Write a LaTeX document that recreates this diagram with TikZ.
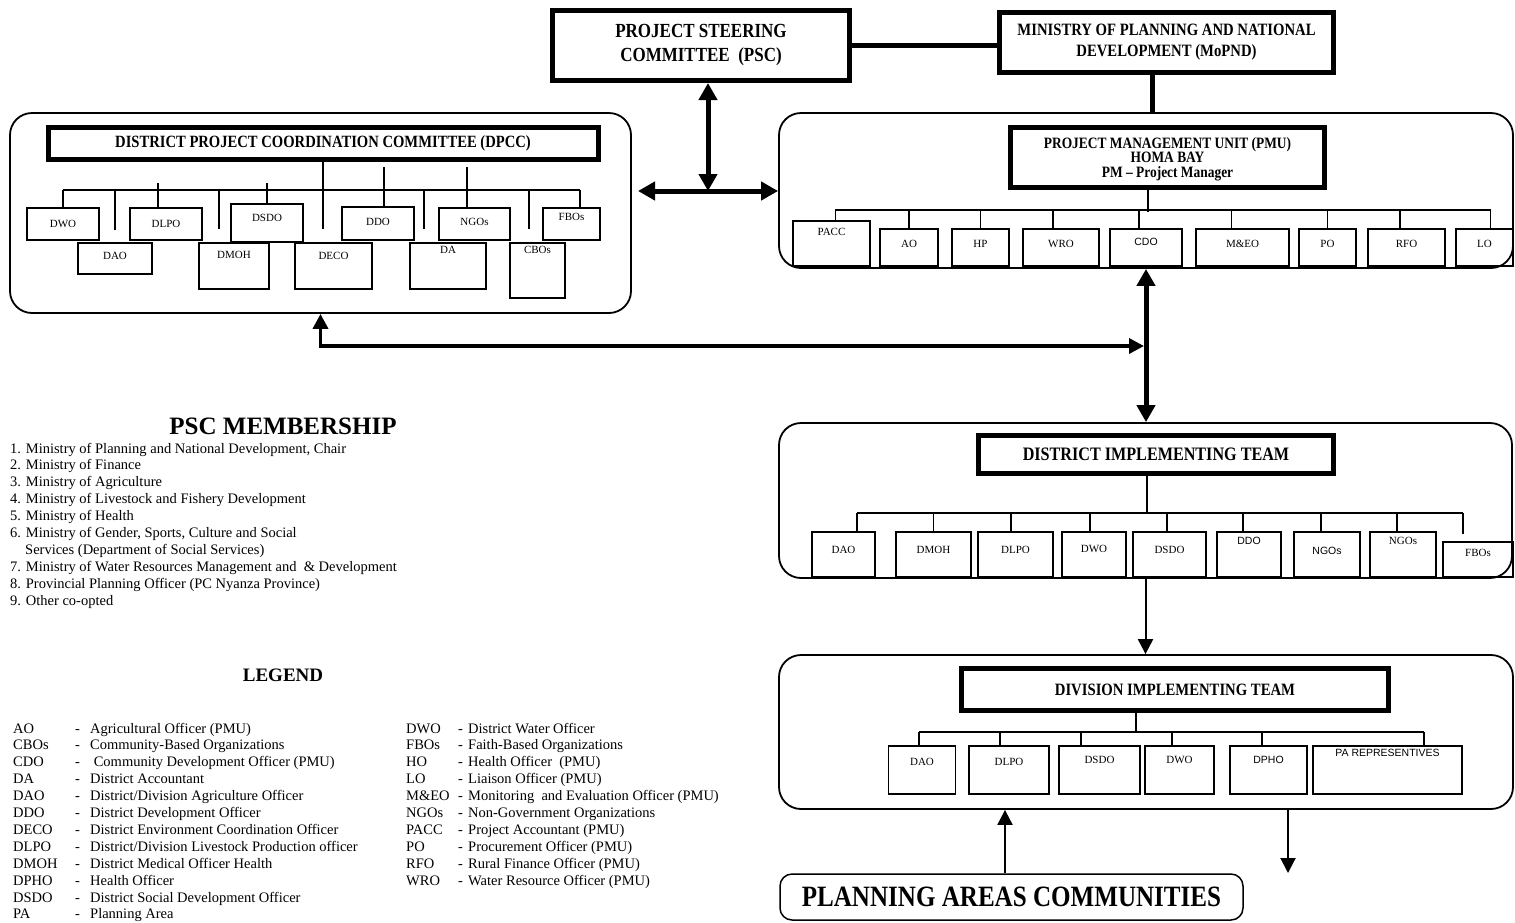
\documentclass[tikz,border=0pt]{standalone}
\usepackage{fontspec}
\setmainfont{Liberation Serif}
\newfontfamily\headfont{Liberation Serif}[FakeStretch=0.85]
\newfontfamily\arialfont{Liberation Sans}
\usetikzlibrary{arrows.meta}
\newcommand{\boxlbl}{\fontsize{11}{13}\selectfont}
\newcommand{\boxsans}{\arialfont\fontsize{10.5}{12.5}\selectfont}
\newcommand{\bodytxt}{\fontsize{14.5}{16.9}\selectfont}

\begin{document}
\begin{tikzpicture}[x=1pt, y=-1pt,
    unit/.style={draw, line width=1.2pt, inner sep=1pt, font=\boxlbl},
    sunit/.style={unit, font=\boxsans},
    head/.style={draw, line width=5pt, inner sep=2pt, align=center},
    group/.style={draw, line width=1.8pt, rounded corners=22pt, inner sep=0pt},
    txtup/.style={text depth=#1pt},
    bus/.style={line width=1.5pt},
    fat/.style={line width=5pt},
    fatarrow/.style={line width=5pt,
        {Triangle[length=17pt,width=18pt]}-{Triangle[length=17pt,width=18pt]}},
    midarrow/.style={line width=3.5pt,
        {Triangle[length=15pt,width=15pt]}-{Triangle[length=15pt,width=15pt]}},
    thinarrow/.style={line width=2pt, -{Triangle[length=15pt,width=15pt]}},
]
\useasboundingbox (0,0) rectangle (1515,922);

    %Groups
    \node[group, minimum width=621pt, minimum height=200pt] (dpccgrp) at (320.5,213) {};
    \node[group, minimum width=734pt, minimum height=155pt] (pmugrp) at (1146,190.5) {};
    \node[group, minimum width=733pt, minimum height=155pt] (ditgrp) at (1145.5,500.5) {};
    \node[group, minimum width=734pt, minimum height=154pt] (divgrp) at (1146,732) {};

    %Top
    \node[head, minimum width=297pt, minimum height=70pt,
        font=\headfont\bfseries\fontsize{20}{24}\selectfont] (psc) at (701,45.5)
        {PROJECT STEERING\\COMMITTEE\ \ (PSC)};
    \node[head, minimum width=334pt, minimum height=60pt,
        font=\headfont\bfseries\fontsize{17.3}{21}\selectfont] (mopnd) at (1166.5,42.5)
        {MINISTRY OF PLANNING AND NATIONAL\\DEVELOPMENT (MoPND)};

    %DPCC
    \node[head, minimum width=550pt, minimum height=32pt,
        font=\headfont\bfseries\fontsize{17.2}{20}\selectfont] (dpcc) at (323,143)
        {DISTRICT PROJECT COORDINATION COMMITTEE (DPCC)};
    \node[unit, minimum width=72pt, minimum height=32pt] (dwo) at (63,224) {DWO};
    \node[unit, minimum width=72pt, minimum height=32pt] (dlpo) at (166,224) {DLPO};
    \node[unit, minimum width=72pt, minimum height=38pt, txtup=10] (dsdo) at (267,223) {DSDO};
    \node[unit, minimum width=72pt, minimum height=33pt, txtup=3] (ddo) at (378,223.5) {DDO};
    \node[unit, minimum width=71pt, minimum height=32pt, txtup=4] (ngos) at (474.5,224) {NGOs};
    \node[unit, minimum width=57pt, minimum height=32pt, txtup=14] (fbos) at (571.5,224) {FBOs};
    \node[unit, minimum width=74pt, minimum height=31pt, txtup=5] (dao) at (115,258.5) {DAO};
    \node[unit, minimum width=70pt, minimum height=46pt, txtup=22] (dmoh) at (234,266) {DMOH};
    \node[unit, minimum width=77pt, minimum height=46pt, txtup=20] (deco) at (333.5,266) {DECO};
    \node[unit, minimum width=76pt, minimum height=46pt, txtup=32] (da) at (448,266) {DA};
    \node[unit, minimum width=55pt, minimum height=55pt, txtup=41] (cbos) at (537.5,270.5) {CBOs};

    %PMU
    \node[head, minimum width=314pt, minimum height=60pt,
        font=\headfont\bfseries\fontsize{15.8}{14.5}\selectfont] (pmu) at (1167.5,157.5)
        {\rule{0pt}{14pt}PROJECT MANAGEMENT UNIT (PMU)\\HOMA BAY\\PM – Project Manager};
    \node[unit, minimum width=77pt, minimum height=45pt, txtup=23] (pacc) at (831.5,243.5) {PACC};
    \node[unit, minimum width=58pt, minimum height=37pt, txtup=7] (ao) at (909,247.5) {AO};
    \node[unit, minimum width=57pt, minimum height=37pt, txtup=7] (hp) at (980.5,247.5) {HP};
    \node[unit, minimum width=76pt, minimum height=37pt, txtup=7] (wro) at (1061,247.5) {WRO};
    \node[sunit, minimum width=72pt, minimum height=37pt, txtup=11] (cdo) at (1146,247.5) {CDO};
    \node[unit, minimum width=93pt, minimum height=37pt, txtup=7] (meo) at (1242.5,247.5) {M\&EO};
    \node[unit, minimum width=57pt, minimum height=37pt, txtup=7] (po) at (1327.5,247.5) {PO};
    \node[unit, minimum width=77pt, minimum height=37pt, txtup=7] (rfo) at (1406.5,247.5) {RFO};
    \node[unit, minimum width=57pt, minimum height=37pt, txtup=7] (lo) at (1484.5,247.5) {LO};

    %District implementing team
    \node[head, minimum width=355pt, minimum height=38pt,
        font=\headfont\bfseries\fontsize{19}{22}\selectfont] (dit) at (1156,454.5)
        {DISTRICT IMPLEMENTING TEAM};
    \node[unit, minimum width=63pt, minimum height=45pt, txtup=10] (dao2) at (843.5,554.5) {DAO};
    \node[unit, minimum width=75pt, minimum height=45pt, txtup=10] (dmoh2) at (933.5,554.5) {DMOH};
    \node[unit, minimum width=75pt, minimum height=45pt, txtup=10] (dlpo2) at (1015.5,554.5) {DLPO};
    \node[unit, minimum width=64pt, minimum height=45pt, txtup=12] (dwo2) at (1094,554.5) {DWO};
    \node[unit, minimum width=73pt, minimum height=45pt, txtup=10] (dsdo2) at (1169.5,554.5) {DSDO};
    \node[sunit, minimum width=64pt, minimum height=45pt, txtup=27] (ddo2) at (1249,554.5) {DDO};
    \node[sunit, minimum width=66pt, minimum height=45pt, txtup=8] (ngos2) at (1327,554.5) {NGOs};
    \node[unit, minimum width=66pt, minimum height=45pt, txtup=27] (ngos3) at (1403,554.5) {NGOs};
    \node[unit, minimum width=70pt, minimum height=35pt, txtup=13] (fbos2) at (1478,559.5) {FBOs};

    %Division implementing team
    \node[head, minimum width=427pt, minimum height=42pt,
        font=\headfont\bfseries\fontsize{17.3}{20}\selectfont] (divit) at (1175,689.5)
        {DIVISION IMPLEMENTING TEAM};
    \node[unit, minimum width=67.5pt, minimum height=48pt, txtup=16] (dao3) at (922,770) {DAO};
    \node[unit, minimum width=80pt, minimum height=48pt, txtup=16] (dlpo3) at (1009,770) {DLPO};
    \node[unit, minimum width=81pt, minimum height=48pt, txtup=20] (dsdo3) at (1099.5,770) {DSDO};
    \node[unit, minimum width=69pt, minimum height=48pt, txtup=20] (dwo3) at (1179.5,770) {DWO};
    \node[sunit, minimum width=77pt, minimum height=48pt, txtup=20] (dpho) at (1268.5,770) {DPHO};
    \node[sunit, minimum width=149pt, minimum height=48pt, txtup=34] (parep) at (1387.5,770) {PA REPRESENTIVES};

    %Communities
    \node[draw, line width=1.5pt, rounded corners=12pt, minimum width=463pt, minimum height=46pt,
        font=\headfont\bfseries\fontsize{29.5}{32}\selectfont] (comm) at (1011.5,897)
        {PLANNING AREAS COMMUNITIES};

    %Links between top boxes
    \draw[fat] (psc.east) -- (psc.east -| mopnd.west);
    \coordinate (mlink) at (1152,0);
    \draw[fat] (mlink |- mopnd.south) -- (mlink |- pmugrp.north);
    \coordinate (hub) at (708,191);
    \coordinate (hubL) at (638,191);
    \draw[fatarrow] (psc.south -| hub) -- (hub);
    \draw[fatarrow] (hubL) -- (hub -| pmugrp.west);
    \draw[fatarrow] (pmugrp.south) -- (pmugrp.south |- ditgrp.north);
    \coordinate (lowtip) at (1144,346);
    \draw[midarrow] (dpccgrp.south) |- (lowtip);
    \draw[thinarrow] (ditgrp.south) -- (ditgrp.south |- divgrp.north);
    \draw[thinarrow] ([xshift=-6.5pt]comm.north) -- ([xshift=-6.5pt]comm.north |- divgrp.south);
    \coordinate (outflow) at (1288,873);
    \draw[thinarrow] (outflow |- divgrp.south) -- (outflow);

    %DPCC lines
    \coordinate (dbusL) at (63,190);
    \coordinate (dbusR) at (580,190);
    \draw[bus] (dbusL) -- (dbusR);
    \draw[bus] (dwo.north) -- (dwo.north |- dbusL);
    \draw[bus] (dao.north |- dbusL) -- ([yshift=12pt]dao.north);
    \draw[bus] ([xshift=-8pt]dlpo.north) -- ++(0,-24);
    \draw[bus] ([xshift=-15pt]dmoh.north |- dbusL) -- ([xshift=-15pt,yshift=13pt]dmoh.north);
    \draw[bus] (dsdo.north) -- ++(0,-20);
    \draw[bus] (dpcc.south) -- ++(0,67);
    \draw[bus] ([xshift=6pt]ddo.north) -- ++(0,-39);
    \draw[bus] ([xshift=-24pt]da.north |- dbusL) -- ([xshift=-24pt,yshift=13pt]da.north);
    \draw[bus] ([xshift=-7.5pt]ngos.north) -- ++(0,-40);
    \draw[bus] ([xshift=-8.5pt]cbos.north |- dbusL) -- ([xshift=-8.5pt,yshift=13pt]cbos.north);
    \draw[bus] (dbusR) -- (dbusR |- fbos.north);

    %PMU lines
    \coordinate (pbus) at (1148,210);
    \coordinate (pbusL) at (835,210);
    \coordinate (pbusR) at (1491,210);
    \draw[bus] (pmu.south -| pbus) -- ([yshift=-2pt]pbus);
    \draw[bus] (pbusL) -- (pbusR);
    \foreach \n/\dx in {pacc/4, ao/0, hp/0, wro/-8, cdo/-7, meo/-11, po/0, rfo/-6.5, lo/6}
        \draw[bus] ([xshift=\dx pt]\n.north) -- ([xshift=\dx pt]\n.north |- pbusL);

    %District team lines
    \coordinate (tbus) at (1147,513);
    \coordinate (tbusL) at (857,513);
    \coordinate (tbusR) at (1463,513);
    \draw[bus] (dit.south -| tbus) -- (tbus);
    \draw[bus] (tbusL) -- (tbusR);
    \foreach \n/\dx in {dao2/13.5, dmoh2/0, dlpo2/-4.5, dwo2/-4, dsdo2/-2.5, ddo2/-6, ngos2/-6, ngos3/-6}
        \draw[bus] ([xshift=\dx pt]\n.north) -- ([xshift=\dx pt]\n.north |- tbusL);
    \draw[bus] (tbusR) -- ([yshift=7pt]tbusR |- fbos2.north);

    %Division team lines
    \coordinate (vbus) at (1136,732);
    \coordinate (vbusL) at (919,732);
    \coordinate (vbusR) at (1424,732);
    \draw[bus] (divit.south -| vbus) -- (vbus);
    \draw[bus] (vbusL) -- (vbusR);
    \foreach \n/\dx in {dao3/-3, dlpo3/-9, dsdo3/-18.5, dwo3/-7.5, dpho/-6.5, parep/36.5}
        \draw[bus] ([xshift=\dx pt]\n.north) -- ([xshift=\dx pt]\n.north |- vbusL);

    %PSC membership
    \node[font=\bfseries\fontsize{25}{30}\selectfont] (psctitle) at (283,426) {PSC MEMBERSHIP};
    \node[anchor=north west, inner sep=0pt, font=\bodytxt] (members) at (10,441) {%
        \begin{tabular}{@{}l@{}}
        1. Ministry of Planning and National Development, Chair\\
        2. Ministry of Finance\\
        3. Ministry of Agriculture\\
        4. Ministry of Livestock and Fishery Development\\
        5. Ministry of Health\\
        6. Ministry of Gender, Sports, Culture and Social\\
        \hspace*{15pt}Services (Department of Social Services)\\
        7. Ministry of Water Resources Management and\ \ \& Development\\
        8. Provincial Planning Officer (PC Nyanza Province)\\
        9. Other co-opted
        \end{tabular}};

    %Legend
    \node[font=\bfseries\fontsize{19}{23}\selectfont] (legtitle) at (283,675) {LEGEND};
    \node[anchor=north west, inner sep=0pt, font=\bodytxt] (legendA) at (13,721) {%
        \begin{tabular}{@{}p{62pt}@{}p{15pt}@{}l@{}}
        AO & - & Agricultural Officer (PMU)\\
        CBOs & - & Community-Based Organizations\\
        CDO & - & \ Community Development Officer (PMU)\\
        DA & - & District Accountant\\
        DAO & - & District/Division Agriculture Officer\\
        DDO & - & District Development Officer\\
        DECO & - & District Environment Coordination Officer\\
        DLPO & - & District/Division Livestock Production officer\\
        DMOH & - & District Medical Officer Health\\
        DPHO & - & Health Officer\\
        DSDO & - & District Social Development Officer\\
        PA & - & Planning Area
        \end{tabular}};
    \node[anchor=north west, inner sep=0pt, font=\bodytxt] (legendB) at (406,721) {%
        \begin{tabular}{@{}p{52pt}@{}p{10pt}@{}l@{}}
        DWO & - & District Water Officer\\
        FBOs & - & Faith-Based Organizations\\
        HO & - & Health Officer\ \ (PMU)\\
        LO & - & Liaison Officer (PMU)\\
        M\&EO & - & Monitoring\ \ and Evaluation Officer (PMU)\\
        NGOs & - & Non-Government Organizations\\
        PACC & - & Project Accountant (PMU)\\
        PO & - & Procurement Officer (PMU)\\
        RFO & - & Rural Finance Officer (PMU)\\
        WRO & - & Water Resource Officer (PMU)
        \end{tabular}};
\end{tikzpicture}
\end{document}
